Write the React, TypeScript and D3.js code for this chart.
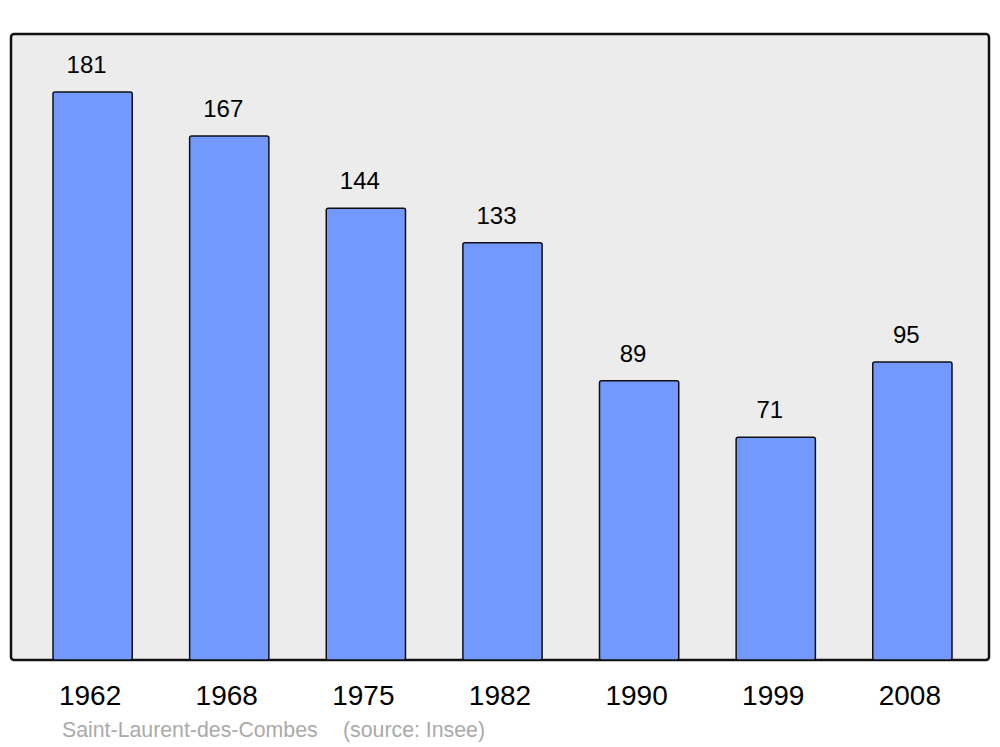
import React from "react";
import * as d3 from "d3";

const years = ["1962", "1968", "1975", "1982", "1990", "1999", "2008"];
const population = [181, 167, 144, 133, 89, 71, 95];
const placeName = "Saint-Laurent-des-Combes";
const sourceLabel = "(source: Insee)";

export default function App() {
  const W = 1000, H = 747;
  const frame = { x0: 11, y0: 34, x1: 989, y1: 660 };
  const x = d3.scaleBand<string>().domain(years).range([53, 952]).paddingInner(0.42).paddingOuter(0);
  const y = d3.scaleLinear().domain([0, 200]).range([frame.y1, 32.4]);
  const font = "'Liberation Sans', Arial, sans-serif";
  return (
    <svg width={W} height={H} style={{ position: "absolute", left: 0, top: 0 }} fontFamily={font}>
      <rect x={0} y={0} width={W} height={H} fill="#ffffff" />
      <rect x={frame.x0} y={frame.y0} width={frame.x1 - frame.x0} height={frame.y1 - frame.y0}
        fill="#ececec" stroke="#111" strokeWidth={2.5} rx={3} />
      {years.map((yr, i) => {
        const bx = x(yr)!;
        const bw = x.bandwidth();
        const top = y(population[i]);
        return (
          <g key={yr}>
            <rect x={bx} y={top} width={bw} height={frame.y1 - top} fill="#7399ff" stroke="#111" strokeWidth={1.5} rx={2} />
            <text x={bx + bw / 2 - 6} y={top - 19} textAnchor="middle" fontSize={24} fill="#000">{population[i]}</text>
            <text x={bx + bw / 2 - 2.5} y={705} textAnchor="middle" fontSize={28} fill="#000">{yr}</text>
          </g>
        );
      })}
      <text x={62} y={737} fontSize={21.3} fill="#aaaaaa">{placeName}</text>
      <text x={343} y={737} fontSize={21.3} fill="#aaaaaa">{sourceLabel}</text>
    </svg>
  );
}
